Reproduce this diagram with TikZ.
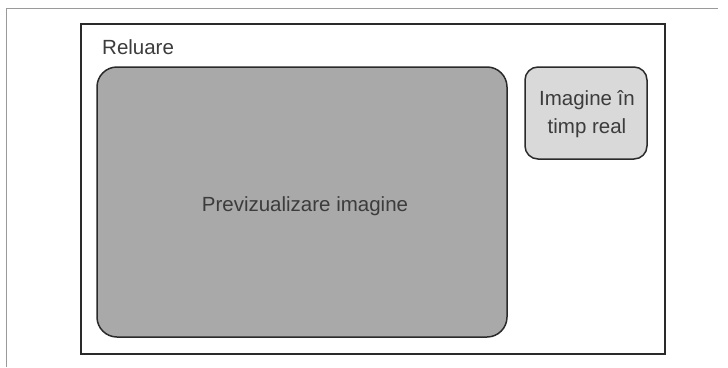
\documentclass[tikz,border=0pt]{standalone}
\usepackage{fontspec}
\setmainfont{Liberation Sans}
\definecolor{txt}{HTML}{3C3C3C}
\definecolor{edge}{HTML}{2A2A2A}
\definecolor{bigfill}{HTML}{A9A9AA}
\definecolor{smallfill}{HTML}{D9D9D9}
\definecolor{frame}{HTML}{9A9A9A}
\begin{document}
\begin{tikzpicture}[x=1pt,y=-1pt,
  boxlabel/.style={text=txt,font=\fontsize{20.5}{28}\selectfont},
  panel/.style={draw=edge,line width=1.5pt,inner sep=0pt}]
\useasboundingbox (0,0) rectangle (728,367);
\fill[white] (0,0) rectangle (728,367);
% page frame lines
\coordinate (tl) at (6,8);
\coordinate (tr) at (718,8);
\coordinate (bl) at (6,367);
\draw[frame,line width=1pt] (tr) -- (tl) -- (bl);
% outer rectangle
\node[panel,minimum width=584pt,minimum height=330pt] (outer) at (373,189) {};
\node[boxlabel,anchor=west,inner sep=0pt] (reluare) at (102,47) {Reluare};
% preview
\node[panel,fill=bigfill,rounded corners=20pt,minimum width=410pt,minimum height=270pt] (preview) at (302,202) {};
\node[boxlabel] (previewtext) at (305,206) {Previzualizare imagine};
% live image
\node[panel,fill=smallfill,rounded corners=13pt,minimum width=122pt,minimum height=92pt] (live) at (586,113) {};
\node[boxlabel,align=center] (livetext) at (587,114) {Imagine în\\timp real};
\end{tikzpicture}
\end{document}
